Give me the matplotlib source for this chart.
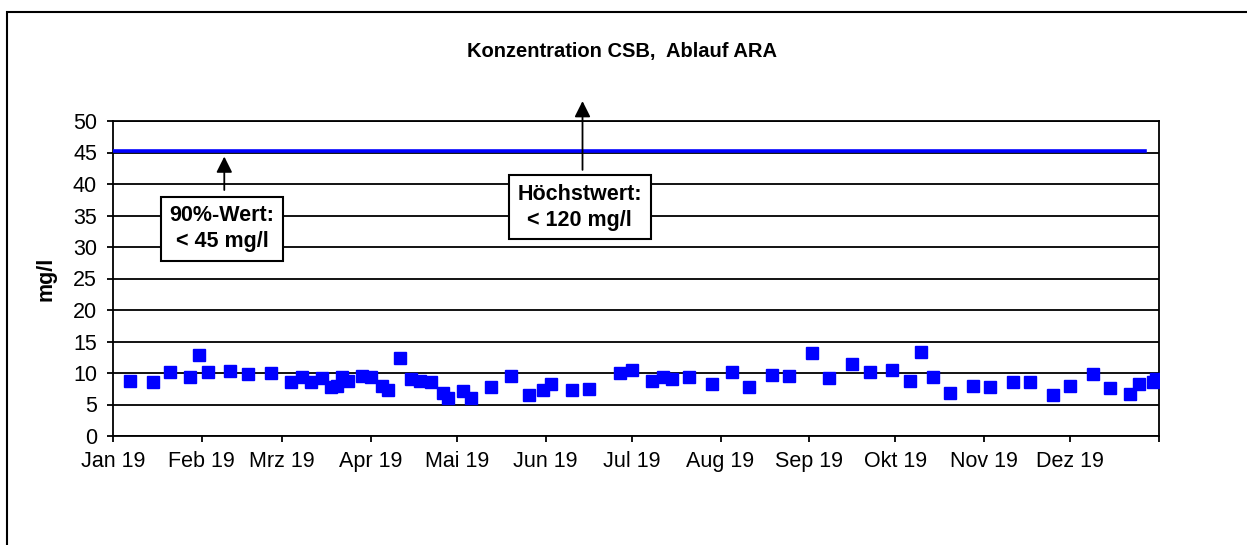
import datetime as dt
import matplotlib
matplotlib.use('Agg')
import matplotlib.pyplot as plt
from matplotlib.patches import Rectangle

plt.rcParams['font.family'] = ['Liberation Sans', 'DejaVu Sans']

# sample dates (2019) and CSB concentration in mg/l
SAMPLE_DATES = ['2019-01-07', '2019-01-15', '2019-01-21', '2019-01-28', '2019-01-31',
                '2019-02-03', '2019-02-11', '2019-02-17', '2019-02-25',
                '2019-03-04', '2019-03-08', '2019-03-11', '2019-03-15', '2019-03-18',
                '2019-03-20', '2019-03-22', '2019-03-24', '2019-03-29',
                '2019-04-01', '2019-04-05', '2019-04-07', '2019-04-11', '2019-04-15',
                '2019-04-18', '2019-04-22', '2019-04-26', '2019-04-28',
                '2019-05-03', '2019-05-06', '2019-05-13', '2019-05-20', '2019-05-26',
                '2019-05-31', '2019-06-03', '2019-06-10', '2019-06-16', '2019-06-27',
                '2019-07-01', '2019-07-08', '2019-07-12', '2019-07-15', '2019-07-21',
                '2019-07-29', '2019-08-05', '2019-08-11', '2019-08-19', '2019-08-25',
                '2019-09-02', '2019-09-08', '2019-09-16', '2019-09-22', '2019-09-30',
                '2019-10-06', '2019-10-10', '2019-10-14', '2019-10-20', '2019-10-28',
                '2019-11-03', '2019-11-11', '2019-11-17', '2019-11-25',
                '2019-12-01', '2019-12-09', '2019-12-15', '2019-12-22', '2019-12-25',
                '2019-12-30', '2019-12-31']
CSB_VALUES = [8.8, 8.65, 10.2, 9.3, 12.9,
              10.2, 10.3, 9.8, 10.0,
              8.65, 9.3, 8.5, 9.2, 7.7,
              7.9, 9.3, 8.8, 9.6,
              9.3, 7.9, 7.3, 12.4, 9.1,
              8.8, 8.5, 6.8, 6.1,
              7.2, 6.0, 7.8, 9.55, 6.55,
              7.3, 8.3, 7.3, 7.4, 10.0,
              10.4, 8.8, 9.4, 9.1, 9.3,
              8.3, 10.2, 7.8, 9.7, 9.55,
              13.2, 9.2, 11.45, 10.1, 10.5,
              8.8, 13.35, 9.4, 6.9, 7.9,
              7.8, 8.55, 8.55, 6.55,
              7.9, 9.9, 7.65, 6.7, 8.2,
              8.65, 9.1]

# limit line (90%-Wert)
LIMIT_DATES = ['2019-01-01', '2019-12-27']
LIMIT_VALUES = [45.2, 45.2]

MONTH_LABELS = ['Jan 19', 'Feb 19', 'Mrz 19', 'Apr 19', 'Mai 19', 'Jun 19',
                'Jul 19', 'Aug 19', 'Sep 19', 'Okt 19', 'Nov 19', 'Dez 19', '']


def to_date(s):
    return dt.datetime.strptime(s, '%Y-%m-%d')


fig = plt.figure(figsize=(12.47, 5.45), dpi=100)
ax = fig.add_axes([113 / 1247, 109 / 545, 1046 / 1247, 315 / 545])

#outer frame
fig.patches.append(Rectangle((7 / 1247, -0.2), 1.2, 1.2 - 12 / 545,
                             transform=fig.transFigure, fill=False,
                             edgecolor='black', lw=1.5))

#plot the values
ax.plot([to_date(d) for d in LIMIT_DATES], LIMIT_VALUES, '-', color='#0000ff', lw=2.6, zorder=3)
ax.plot([to_date(d) for d in SAMPLE_DATES], CSB_VALUES, 's', color='#0000ff',
        markersize=8, zorder=4)

#axes
ax.set_ylim(0, 50)
ax.set_yticks(range(0, 51, 5))
ax.set_xlim(dt.datetime(2019, 1, 1), dt.datetime(2020, 1, 1))
ticks = [dt.datetime(2019, m, 1) for m in range(1, 13)] + [dt.datetime(2020, 1, 1)]
ax.set_xticks(ticks)
ax.set_xticklabels(MONTH_LABELS)
ax.grid(axis='y', color='black', lw=1.3)
ax.set_axisbelow(True)
for side in ['left', 'bottom', 'right', 'top']:
    ax.spines[side].set_linewidth(1.3)
ax.tick_params(axis='both', labelsize=15.5, width=1.3, length=4.5, pad=6)
ax.tick_params(axis='y', pad=7)

ax.set_ylabel('mg/l', fontsize=15.5, fontweight='bold', labelpad=12)
fig.text(622 / 1247, 1 - 51 / 545, 'Konzentration CSB,  Ablauf ARA', ha='center', va='center',
         fontsize=14.5, fontweight='bold')

#annotation boxes with arrows
box = dict(boxstyle='square,pad=0.4', facecolor='white', edgecolor='black', lw=1.5)
ax.annotate('', xy=(dt.datetime(2019, 2, 8, 20), 44.8), xytext=(dt.datetime(2019, 2, 8, 20), 38.6),
            arrowprops=dict(arrowstyle='-|>', color='black', lw=1.3, mutation_scale=24), zorder=5)
ax.text(dt.datetime(2019, 2, 8), 32.9, '90%-Wert:\n< 45 mg/l', ha='center', va='center',
        fontsize=15.5, fontweight='bold', bbox=box, zorder=6, linespacing=1.3)

ax.annotate('', xy=(dt.datetime(2019, 6, 13, 20), 53.6), xytext=(dt.datetime(2019, 6, 13, 20), 41.8),
            arrowprops=dict(arrowstyle='-|>', color='black', lw=1.3, mutation_scale=24),
            annotation_clip=False, zorder=5)
ax.text(dt.datetime(2019, 6, 12, 20), 36.3, 'Höchstwert:\n< 120 mg/l', ha='center', va='center',
        fontsize=15.5, fontweight='bold', bbox=box, zorder=6, linespacing=1.3)

plt.savefig('out.png', dpi=100)
